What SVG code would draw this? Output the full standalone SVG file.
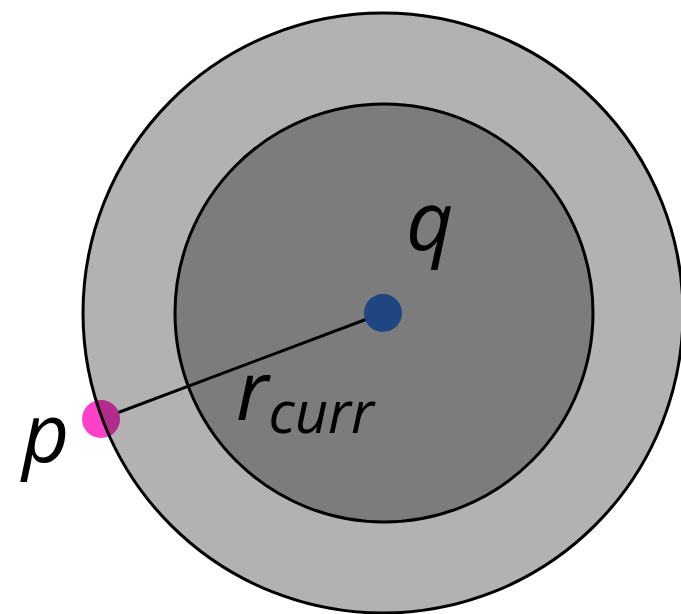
<svg xmlns="http://www.w3.org/2000/svg" width="681" height="614" viewBox="0 0 681 614">
<style>
.ring{fill:#000;fill-opacity:0.3;stroke:#000;stroke-width:3}
.lbl{font-family:"Open Sans","Noto Sans",sans-serif;font-style:italic;fill:#000}
</style>
<rect width="681" height="614" fill="#fff"/>
<g id="connectors">
<line x1="101" y1="419" x2="383" y2="313" stroke="#000" stroke-width="3"/>
</g>
<g id="p">
<circle cx="101" cy="419" r="19" fill="#ff40c8"/>
</g>
<g id="outer">
<circle cx="383" cy="313" r="300" class="ring"/>
</g>
<g id="inner">
<circle cx="384" cy="313" r="209" class="ring"/>
</g>
<g id="q">
<circle cx="383" cy="313" r="19" fill="#1f4582"/>
</g>
<text class="lbl" x="406" y="250" font-size="82">q</text>
<text class="lbl" x="22" y="462" font-size="82">p</text>
<text class="lbl" x="236" y="420" font-size="82">r<tspan font-size="58" dy="13">curr</tspan></text>
</svg>
